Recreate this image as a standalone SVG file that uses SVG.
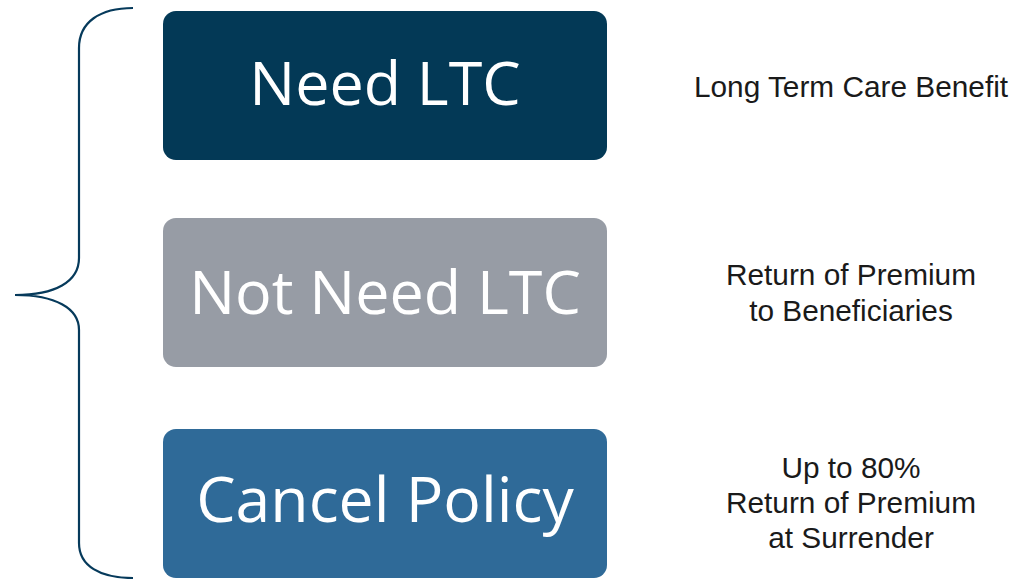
<svg xmlns="http://www.w3.org/2000/svg" width="1013" height="579" viewBox="0 0 1013 579">
  <style>
    .box-label { font-family: "Open Sans", "Noto Sans", sans-serif; font-size: 61px; fill: #ffffff; text-anchor: middle; }
    .note { font-family: "Liberation Sans", Arial, sans-serif; font-size: 29.8px; fill: #1a1a1a; text-anchor: middle; }
    .brace { fill: none; stroke: #063a5b; stroke-width: 2.2; }
  </style>
  <rect width="1013" height="579" fill="#ffffff"/>

  <!-- curly brace grouping the three outcomes -->
  <g id="connectors">
    <path class="brace" d="M133,8 C100,8 79,22 79,48 L79,258 C79,282 55,295 15,295 C55,295 79,308 79,330 L79,543 C79,566 100,578 133,578"/>
  </g>

  <g id="need-ltc">
    <rect x="163" y="11" width="444" height="149" rx="13" fill="#033956"/>
    <text class="box-label" x="385" y="105">Need LTC</text>
  </g>

  <g id="not-need-ltc">
    <rect x="163" y="218" width="444" height="149" rx="13" fill="#979ca5"/>
    <text class="box-label" x="385" y="314">Not Need LTC</text>
  </g>

  <g id="cancel-policy">
    <rect x="163" y="429" width="444" height="149" rx="13" fill="#2f6a98"/>
    <text class="box-label" x="385" y="522" style="font-size:62.5px">Cancel Policy</text>
  </g>

  <g id="note-ltc-benefit">
    <text class="note" x="851" y="97">Long Term Care Benefit</text>
  </g>

  <g id="note-return-premium">
    <text class="note" x="851" y="285">Return of Premium</text>
    <text class="note" x="851" y="321">to Beneficiaries</text>
  </g>

  <g id="note-surrender">
    <text class="note" x="851" y="478">Up to 80%</text>
    <text class="note" x="851" y="513">Return of Premium</text>
    <text class="note" x="851" y="548">at Surrender</text>
  </g>
</svg>
